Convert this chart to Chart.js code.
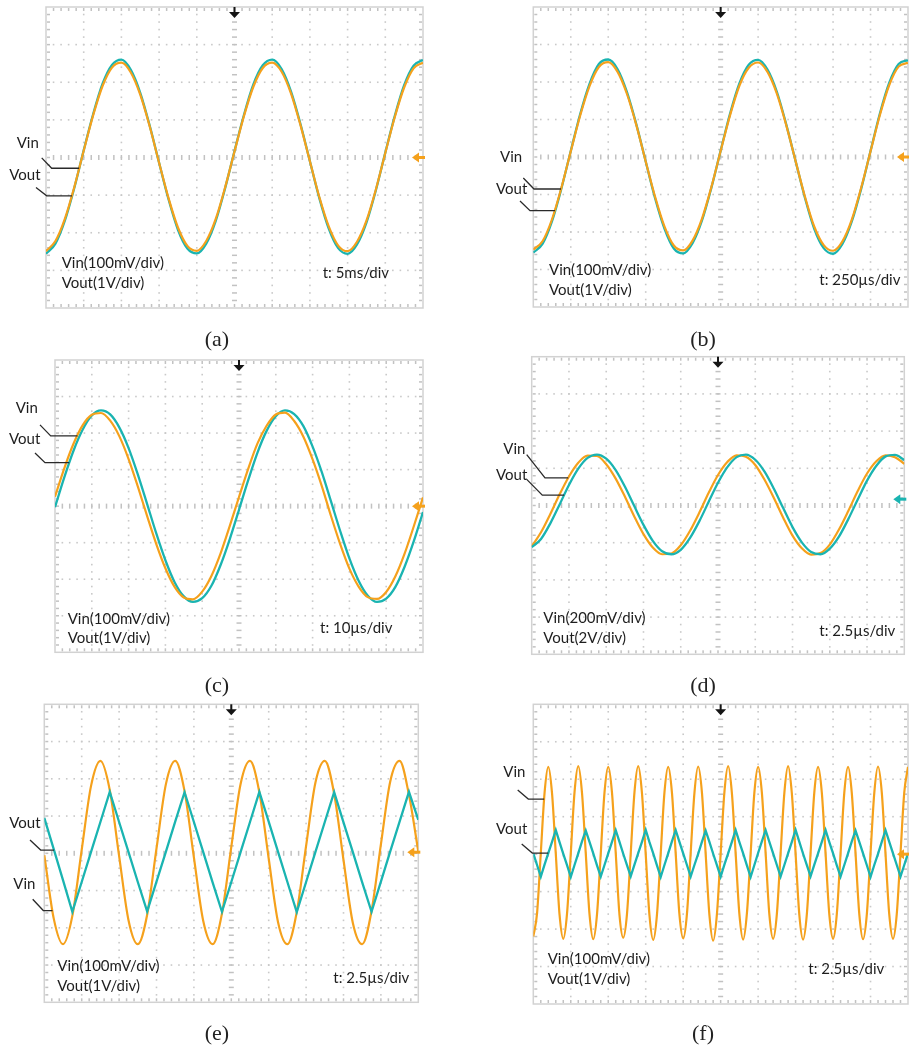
<!DOCTYPE html>
<html>
<head>
<meta charset="utf-8">
<script src="https://cdn.jsdelivr.net/npm/chart.js@4.4.1/dist/chart.umd.min.js"></script>
<style>
  html, body { margin: 0; padding: 0; background: #ffffff; }
  #page { position: relative; width: 909px; height: 1046px; overflow: hidden; background: #ffffff; }
  #page canvas { position: absolute; }
  #txt { position: absolute; left: 0; top: 0; pointer-events: none; }
  .note { font-family: Lato, "Open Sans", sans-serif; font-size: 15px; fill: #1e1e1e; }
  .cap { font-family: "Liberation Serif", serif; font-size: 22px; fill: #222222; }
</style>
</head>
<body>
<div id="page">
  <svg id="txt" width="909" height="1046" xmlns="http://www.w3.org/2000/svg"></svg>
</div>
<script>
// Time axis samples, in screen divisions (10 divisions across)
const tQuarter = [0,0.25,0.5,0.75,1,1.25,1.5,1.75,2,2.25,2.5,2.75,3,3.25,3.5,3.75,4,4.25,4.5,4.75,
  5,5.25,5.5,5.75,6,6.25,6.5,6.75,7,7.25,7.5,7.75,8,8.25,8.5,8.75,9,9.25,9.5,9.75,10];
const tTenth = [0,0.1,0.2,0.3,0.4,0.5,0.6,0.7,0.8,0.9,
  1,1.1,1.2,1.3,1.4,1.5,1.6,1.7,1.8,1.9,
  2,2.1,2.2,2.3,2.4,2.5,2.6,2.7,2.8,2.9,
  3,3.1,3.2,3.3,3.4,3.5,3.6,3.7,3.8,3.9,
  4,4.1,4.2,4.3,4.4,4.5,4.6,4.7,4.8,4.9,
  5,5.1,5.2,5.3,5.4,5.5,5.6,5.7,5.8,5.9,
  6,6.1,6.2,6.3,6.4,6.5,6.6,6.7,6.8,6.9,
  7,7.1,7.2,7.3,7.4,7.5,7.6,7.7,7.8,7.9,
  8,8.1,8.2,8.3,8.4,8.5,8.6,8.7,8.8,8.9,
  9,9.1,9.2,9.3,9.4,9.5,9.6,9.7,9.8,9.9,10];

// Traces in vertical divisions (8 divisions tall, 0 = centre line)
// (a) t: 5ms/div
const vinA = [-2.49,-2.22,-1.63,-0.79,0.18,1.12,1.90,2.39,2.52,2.26,1.67,0.83,-0.14,-1.08,-1.86,-2.35,-2.48,
  -2.22,-1.64,-0.80,0.16,1.10,1.88,2.38,2.52,2.28,1.70,0.86,-0.10,-1.05,-1.83,-2.34,-2.49,
  -2.24,-1.68,-0.85,0.12,1.07,1.86,2.37,2.52];
const voutA = [-2.56,-2.29,-1.68,-0.81,0.19,1.15,1.96,2.46,2.60,2.33,1.72,0.85,-0.14,-1.11,-1.92,-2.42,-2.55,
  -2.29,-1.69,-0.82,0.17,1.13,1.94,2.45,2.60,2.35,1.75,0.89,-0.10,-1.08,-1.89,-2.41,-2.56,
  -2.31,-1.73,-0.87,0.13,1.10,1.92,2.44,2.59];
// (b) t: 250µs/div
const vinB = [-2.47,-2.24,-1.66,-0.82,0.15,1.10,1.89,2.40,2.53,2.27,1.68,0.85,-0.12,-1.06,-1.85,-2.36,-2.49,
  -2.23,-1.65,-0.81,0.16,1.11,1.90,2.38,2.52,2.27,1.69,0.85,-0.11,-1.06,-1.86,-2.35,-2.50,
  -2.25,-1.67,-0.82,0.15,1.12,1.92,2.41,2.51];
const voutB = [-2.55,-2.31,-1.71,-0.84,0.16,1.14,1.95,2.48,2.60,2.34,1.73,0.87,-0.12,-1.10,-1.91,-2.44,-2.57,
  -2.30,-1.70,-0.83,0.17,1.15,1.96,2.46,2.59,2.33,1.74,0.87,-0.11,-1.09,-1.92,-2.43,-2.58,
  -2.32,-1.72,-0.85,0.16,1.16,1.98,2.48,2.58];
// (c) t: 10µs/div
const vinC = [0.26,1.03,1.70,2.21,2.50,2.55,2.34,1.91,1.29,0.54,-0.26,-1.03,-1.70,-2.21,-2.50,-2.55,-2.34,-1.91,-1.29,-0.54,
  0.25,1.02,1.71,2.20,2.51,2.56,2.33,1.90,1.28,0.55,-0.27,-1.04,-1.71,-2.20,-2.49,-2.54,-2.35,-1.92,-1.30,-0.55,0.24];
const voutC = [-0.03,0.78,1.51,2.09,2.48,2.62,2.51,2.15,1.59,0.87,0.07,-0.74,-1.48,-2.08,-2.47,-2.62,-2.52,-2.18,-1.61,-0.90,
  -0.10,0.71,1.46,2.06,2.46,2.62,2.52,2.19,1.63,0.93,0.13,-0.68,-1.43,-2.04,-2.45,-2.62,-2.53,-2.21,-1.66,-0.96,-0.16];
// (d) t: 2.5µs/div
const vinD = [-1.10,-0.72,-0.23,0.30,0.78,1.15,1.34,1.33,1.11,0.73,0.24,-0.29,-0.77,-1.13,-1.31,-1.29,-1.07,-0.68,-0.19,0.34,
  0.82,1.17,1.35,1.31,1.09,0.69,0.20,-0.33,-0.81,-1.15,-1.32,-1.28,-1.05,-0.64,-0.14,0.39,0.86,1.19,1.35,1.30,1.12];
const voutD = [-1.12,-0.90,-0.48,0.03,0.55,0.99,1.28,1.37,1.26,0.96,0.51,-0.01,-0.52,-0.95,-1.23,-1.31,-1.19,-0.87,-0.42,0.10,
  0.61,1.03,1.30,1.37,1.23,0.91,0.45,-0.07,-0.58,-0.99,-1.25,-1.31,-1.16,-0.83,-0.36,0.16,0.67,1.07,1.32,1.36,1.22];
// (e) t: 2.5µs/div
const vinE = [-0.05,-1.74,-2.44,-1.68,0.09,1.81,2.48,1.70,-0.07,-1.79,-2.44,-1.65,0.13,1.85,2.48,1.67,-0.11,-1.82,-2.44,-1.62,
  0.17,1.87,2.48,1.64,-0.14,-1.85,-2.44,-1.58,0.20,1.90,2.48,1.60,-0.18,-1.87,-2.44,-1.55,0.24,1.93,2.48,1.57,0.05];
const voutE = [0.95,0.12,-0.72,-1.57,-0.77,0.04,0.84,1.65,0.84,0.04,-0.77,-1.56,-0.76,0.04,0.85,1.64,0.84,0.03,-0.78,-1.57,
  -0.77,0.04,0.84,1.65,0.85,0.04,-0.77,-1.58,-0.77,0.04,0.84,1.64,0.83,0.03,-0.78,-1.57,-0.76,0.05,0.85,1.65,0.90];
// (f) t: 2.5µs/div
const vinF = [-2.20,-1.58,0.03,1.63,2.33,1.62,0.01,-1.61,
  -2.26,-1.59,0.02,1.65,2.35,1.63,0.02,-1.60,
  -2.27,-1.61,0.01,1.64,2.33,1.64,0.03,-1.62,
  -2.23,-1.60,0.02,1.65,2.35,1.63,0.00,-1.63,
  -2.29,-1.62,0.01,1.64,2.33,1.64,0.02,-1.61,
  -2.25,-1.60,0.03,1.63,2.34,1.65,0.01,-1.62,
  -2.31,-1.61,0.02,1.65,2.35,1.63,0.02,-1.60,
  -2.28,-1.59,0.01,1.64,2.33,1.64,0.03,-1.61,
  -2.26,-1.60,0.02,1.63,2.35,1.62,0.01,-1.62,
  -2.28,-1.61,0.03,1.65,2.33,1.64,0.02,-1.61,
  -2.26,-1.60,0.01,1.64,2.33,1.63,0.02,-1.60,
  -2.27,-1.62,0.02,1.63,2.34,1.65,0.01,-1.61,
  -2.26,-1.60,0.02,1.64,2.33];
const voutF = [0.02,-0.29,-0.60,-0.28,0.03,0.33,0.64,0.32,
  0.01,-0.29,-0.61,-0.29,0.02,0.34,0.63,0.33,
  0.02,-0.30,-0.60,-0.29,0.02,0.33,0.64,0.33,
  0.01,-0.29,-0.59,-0.28,0.03,0.33,0.65,0.32,
  0.02,-0.30,-0.61,-0.29,0.02,0.34,0.64,0.33,
  0.02,-0.29,-0.60,-0.29,0.01,0.33,0.63,0.33,
  0.01,-0.29,-0.60,-0.28,0.02,0.33,0.64,0.32,
  0.02,-0.30,-0.61,-0.29,0.03,0.34,0.64,0.33,
  0.02,-0.29,-0.60,-0.29,0.02,0.33,0.65,0.33,
  0.01,-0.29,-0.59,-0.28,0.02,0.33,0.64,0.32,
  0.02,-0.30,-0.60,-0.29,0.02,0.34,0.63,0.33,
  0.02,-0.29,-0.61,-0.29,0.01,0.33,0.64,0.33,
  0.02,-0.29,-0.60,-0.29,0.02];

// Scale settings shown in each screen
const scaleNotes = [
  ['Vin(100mV/div)', 'Vout(1V/div)', 't: 5ms/div'],
  ['Vin(100mV/div)', 'Vout(1V/div)', 't: 250µs/div'],
  ['Vin(100mV/div)', 'Vout(1V/div)', 't: 10µs/div'],
  ['Vin(200mV/div)', 'Vout(2V/div)', 't: 2.5µs/div'],
  ['Vin(100mV/div)', 'Vout(1V/div)', 't: 2.5µs/div'],
  ['Vin(100mV/div)', 'Vout(1V/div)', 't: 2.5µs/div']
];
const captions = ['(a)', '(b)', '(c)', '(d)', '(e)', '(f)'];

const ORANGE = '#f5a11c';
const TEAL = '#1ab4b1';

// Linear read-out of a trace at an arbitrary time position
function traceAt(t, v, x) {
  for (let i = 1; i < t.length; i++) {
    if (x <= t[i]) {
      const f = (x - t[i - 1]) / (t[i] - t[i - 1]);
      return v[i - 1] + f * (v[i] - v[i - 1]);
    }
  }
  return v[v.length - 1];
}

// Oscilloscope graticule, trigger / ground markers and label leader lines
const scopeScreen = {
  id: 'scopeScreen',
  beforeDatasetsDraw(chart) {
    const { ctx, chartArea: a, scales: { x, y } } = chart;
    ctx.save();
    ctx.strokeStyle = '#d2d2d2';
    ctx.lineWidth = 1.5;
    ctx.strokeRect(a.left, a.top, a.right - a.left, a.bottom - a.top);

    ctx.fillStyle = '#c9c9c9';
    // dotted division lines, one dot every 1/5 division
    for (let d = 1; d < 10; d++) {
      if (d === 5) continue;
      const px = x.getPixelForValue(d);
      for (let k = 1; k < 40; k++) {
        const py = y.getPixelForValue(-4 + k * 0.2);
        ctx.fillRect(px - 0.8, py - 0.8, 1.6, 1.6);
      }
    }
    for (let d = -3; d <= 3; d++) {
      if (d === 0) continue;
      const py = y.getPixelForValue(d);
      for (let k = 1; k < 50; k++) {
        const px = x.getPixelForValue(k * 0.2);
        ctx.fillRect(px - 0.8, py - 0.8, 1.6, 1.6);
      }
    }
    // centre axes with minor tick marks
    ctx.fillStyle = '#c2c2c2';
    const cx = x.getPixelForValue(5), cy = y.getPixelForValue(0);
    for (let k = 1; k < 40; k++) {
      const py = y.getPixelForValue(-4 + k * 0.2);
      ctx.fillRect(cx - 2.5, py - 0.75, 5, 1.5);
    }
    for (let k = 1; k < 50; k++) {
      const px = x.getPixelForValue(k * 0.2);
      ctx.fillRect(px - 0.75, cy - 2.5, 1.5, 5);
    }
    // frame ticks
    for (let k = 1; k < 50; k++) {
      const px = x.getPixelForValue(k * 0.2);
      ctx.fillRect(px - 0.75, a.top + 1, 1.5, 3);
      ctx.fillRect(px - 0.75, a.bottom - 4, 1.5, 3);
    }
    for (let k = 1; k < 40; k++) {
      const py = y.getPixelForValue(-4 + k * 0.2);
      ctx.fillRect(a.left + 1, py - 0.75, 3, 1.5);
      ctx.fillRect(a.right - 4, py - 0.75, 3, 1.5);
    }
    ctx.restore();
  },
  afterDatasetsDraw(chart, args, opts) {
    const { ctx, chartArea: a, scales: { x, y } } = chart;
    ctx.save();
    // trigger position marker
    const tx = x.getPixelForValue(5);
    ctx.fillStyle = '#151515';
    ctx.fillRect(tx - 1, a.top, 2, 6);
    ctx.beginPath();
    ctx.moveTo(tx - 5.5, a.top + 5);
    ctx.lineTo(tx + 5.5, a.top + 5);
    ctx.lineTo(tx, a.top + 11);
    ctx.closePath();
    ctx.fill();
    // ground level marker of the reference channel
    const gy = y.getPixelForValue(opts.ground);
    ctx.fillStyle = opts.groundColor;
    ctx.beginPath();
    ctx.moveTo(a.right - 11, gy);
    ctx.lineTo(a.right - 4, gy - 5);
    ctx.lineTo(a.right - 4, gy + 5);
    ctx.closePath();
    ctx.fill();
    ctx.fillRect(a.right - 5, gy - 1.5, 7, 3);
    // leader lines from the trace names to the traces
    ctx.strokeStyle = '#2a2a2a';
    ctx.lineWidth = 1.3;
    for (const L of opts.leaders) {
      const ex = x.getPixelForValue(L.at);
      const ey = y.getPixelForValue(traceAt(L.t, L.v, L.at));
      ctx.beginPath();
      ctx.moveTo(ex, ey);
      ctx.lineTo(L.elbow, ey);
      ctx.lineTo(L.elbow + L.dx, ey + L.dy);
      ctx.stroke();
    }
    ctx.restore();
  }
};

// Screen boxes: canvas placement and inner screen padding
const screens = [
  { left: 0,   top: 0,   pad: { left: 46,   top: 7,    right: 31,  bottom: 12 },
    t: tQuarter, vin: vinA, vout: voutA, vinOnTop: true, ground: 0, groundColor: ORANGE,
    leaders: [{ on: 'vin', at: 0.88, elbow: 51.7, dx: -10, dy: -10.4 }, { on: 'vout', at: 0.69, elbow: 46.7, dx: -10.7, dy: -8.4 }],
    text: { vin: [16.7, 148.3], vout: [9.3, 180], s1: [61.7, 268.3], s2: [61.7, 288.3], tb: [322.7, 278.3], cap: [217, 346] } },
  { left: 455, top: 0,   pad: { left: 78.3, top: 7,    right: 1,   bottom: 13 },
    t: tQuarter, vin: vinB, vout: voutB, vinOnTop: true, ground: 0, groundColor: ORANGE,
    leaders: [{ on: 'vin', at: 0.74, elbow: 79, dx: -10.7, dy: -11 }, { on: 'vout', at: 0.58, elbow: 75, dx: -10, dy: -9.7 }],
    text: { vin: [500, 162.3], vout: [496, 194], s1: [549, 275], s2: [549, 295], tb: [819.3, 285], cap: [703, 346] } },
  { left: 0,   top: 345, pad: { left: 55,   top: 15,   right: 31,  bottom: 12.7 },
    t: tQuarter, vin: vinC, vout: voutC, vinOnTop: true, ground: 0, groundColor: ORANGE,
    leaders: [{ on: 'vin', at: 0.61, elbow: 50.7, dx: -10.7, dy: -11 }, { on: 'vout', at: 0.39, elbow: 45, dx: -10, dy: -9.7 }],
    text: { vin: [15.7, 413.3], vout: [9, 444.3], s1: [67.7, 624.3], s2: [67.7, 643.3], tb: [320, 633.3], cap: [217, 692] } },
  { left: 455, top: 345, pad: { left: 76.7, top: 11.7, right: 4.7, bottom: 10.7 },
    t: tQuarter, vin: vinD, vout: voutD, vinOnTop: false, ground: 0.17, groundColor: TEAL,
    leaders: [{ on: 'vin', at: 0.98, elbow: 90, dx: -18.3, dy: -23.3 }, { on: 'vout', at: 0.87, elbow: 87.3, dx: -15.6, dy: -15.7 }],
    text: { vin: [503.3, 454], vout: [496, 480], s1: [543.3, 623.3], s2: [543.3, 642.7], tb: [819.3, 635.7], cap: [703, 692] } },
  { left: 0,   top: 695, pad: { left: 44.3, top: 9.3,  right: 35.7, bottom: 12.7 },
    t: tQuarter, vin: vinE, vout: voutE, vinOnTop: false, ground: 0.03, groundColor: ORANGE, voutStraight: true,
    leaders: [{ on: 'vout', at: 0.26, elbow: 40.7, dx: -10.7, dy: -10 }, { on: 'vin', at: 0.22, elbow: 43.3, dx: -10.6, dy: -11.3 }],
    text: { vin: [13.3, 889.3], vout: [9.3, 827.7], s1: [57.3, 971], s2: [57.3, 990.7], tb: [333.3, 983.3], cap: [217, 1040] } },
  { left: 455, top: 695, pad: { left: 78.3, top: 9.3,  right: 1,   bottom: 11 },
    t: tTenth, vin: vinF, vout: voutF, vinOnTop: false, ground: 0, groundColor: ORANGE, voutStraight: true,
    leaders: [{ on: 'vin', at: 0.29, elbow: 73.3, dx: -10.6, dy: -9 }, { on: 'vout', at: 0.40, elbow: 77.3, dx: -10.6, dy: -9 }],
    text: { vin: [503.3, 777.3], vout: [496, 834], s1: [547.7, 964.3], s2: [547.7, 984], tb: [808.3, 974], cap: [703, 1040] } }
];

const page = document.getElementById('page');
const svg = document.getElementById('txt');
function addText(str, pos, cls, anchor) {
  const el = document.createElementNS('http://www.w3.org/2000/svg', 'text');
  el.setAttribute('x', pos[0]);
  el.setAttribute('y', pos[1]);
  el.setAttribute('class', cls);
  if (anchor) el.setAttribute('text-anchor', anchor);
  el.textContent = str;
  svg.appendChild(el);
}

screens.forEach((s, i) => {
  const cv = document.createElement('canvas');
  cv.width = 454;
  cv.height = 320;
  cv.style.left = s.left + 'px';
  cv.style.top = s.top + 'px';
  page.insertBefore(cv, svg);

  const vinSet = {
    label: 'Vin',
    data: s.t.map((x, k) => ({ x, y: s.vin[k] })),
    borderColor: ORANGE,
    borderWidth: 2.2,
    cubicInterpolationMode: 'monotone',
    pointRadius: 0
  };
  const voutSet = {
    label: 'Vout',
    data: s.t.map((x, k) => ({ x, y: s.vout[k] })),
    borderColor: TEAL,
    borderWidth: 2.3,
    pointRadius: 0
  };
  if (s.voutStraight) voutSet.tension = 0; else voutSet.cubicInterpolationMode = 'monotone';

  const leaders = s.leaders.map(L => ({
    t: s.t, v: L.on === 'vin' ? s.vin : s.vout, at: L.at, elbow: L.elbow, dx: L.dx, dy: L.dy
  }));

  new Chart(cv, {
    type: 'line',
    data: { datasets: s.vinOnTop ? [vinSet, voutSet] : [voutSet, vinSet] },
    options: {
      responsive: false,
      animation: false,
      events: [],
      layout: { padding: s.pad },
      scales: {
        x: { type: 'linear', min: 0, max: 10, display: false },
        y: { type: 'linear', min: -4, max: 4, display: false }
      },
      plugins: {
        legend: { display: false },
        tooltip: { enabled: false },
        scopeScreen: { ground: s.ground, groundColor: s.groundColor, leaders }
      }
    },
    plugins: [scopeScreen]
  });

  const n = scaleNotes[i];
  addText('Vin', s.text.vin, 'note');
  addText('Vout', s.text.vout, 'note');
  addText(n[0], s.text.s1, 'note');
  addText(n[1], s.text.s2, 'note');
  addText(n[2], s.text.tb, 'note');
  addText(captions[i], s.text.cap, 'cap', 'middle');
});
</script>
</body>
</html>
